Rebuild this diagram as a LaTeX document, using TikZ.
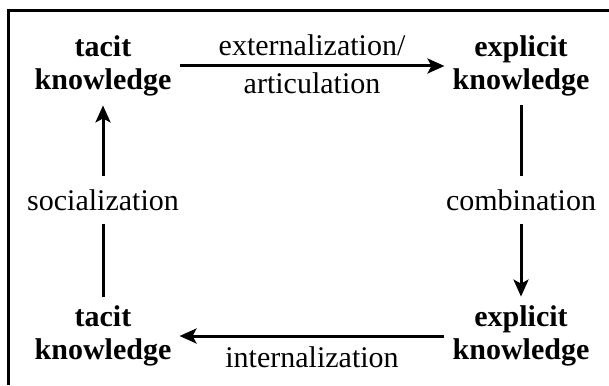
\documentclass[tikz,border=0pt]{standalone}
\usepackage{fontspec}
\setmainfont{Liberation Serif}
\usetikzlibrary{arrows.meta}

\begin{document}
\begin{tikzpicture}[x=1pt, y=-1pt,
    know/.style={font=\fontsize{30}{33}\selectfont\bfseries, align=center, inner xsep=8pt, inner ysep=9pt},
    lbl/.style={font=\fontsize{30}{33}\selectfont, inner sep=0pt},
    wire/.style={line width=3pt},
    flow/.style={wire, -{Stealth[length=17pt, width=15pt, inset=4pt]}}]
    \useasboundingbox (0,0) rectangle (609,385);

    % frame
    \draw[wire] (8,385) |- (609,11);

    \node[know] (tk1) at (103,66) {tacit\\knowledge};
    \node[know] (ek1) at (521,66) {explicit\\knowledge};
    \node[know] (ek2) at (521,336) {explicit\\knowledge};
    \node[know] (tk2) at (103,336) {tacit\\knowledge};

    \node[lbl, inner ysep=13pt] (soc) at (103,200) {socialization};
    \node[lbl, inner ysep=13pt] (comb) at (521,200) {combination};

    \draw[flow] (tk1) -- (ek1)
        node[lbl, midway, above=9pt] (ext) {externalization/}
        node[lbl, midway, below=5pt] (art) {articulation};
    \draw[wire] (ek1) -- (comb);
    \draw[flow] (comb) -- (ek2);
    \draw[flow] (ek2) -- (tk2)
        node[lbl, midway, below=9pt] (int) {internalization};
    \draw[wire] (tk2) -- (soc);
    \draw[flow] (soc) -- (tk1);

\end{tikzpicture}
\end{document}
